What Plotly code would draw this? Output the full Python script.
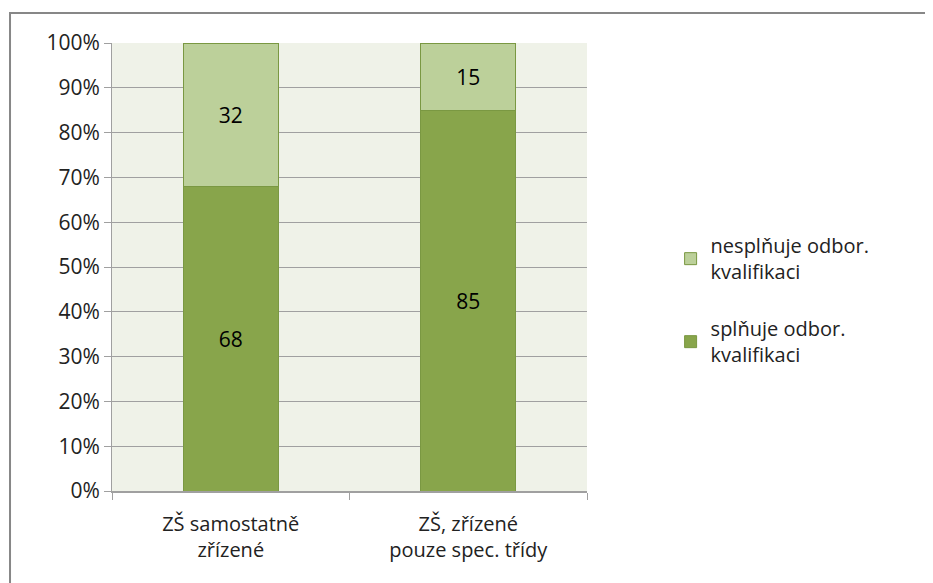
import plotly.graph_objects as go

categories = ["ZŠ samostatně<br>zřízené", "ZŠ, zřízené<br>pouze spec. třídy"]
splnuje = [68, 85]
nesplnuje = [32, 15]

FONT = "Open Sans, Liberation Sans, sans-serif"
FS = 21

fig = go.Figure()

# bottom segment
fig.add_trace(go.Bar(
    x=categories, y=splnuje, name="splňuje odbor.<br>kvalifikaci",
    legendgroup="a", legendrank=2,
    marker=dict(color="#88A54B", line=dict(color="#7A9842", width=1)),
    text=splnuje, textposition="inside", insidetextanchor="middle",
    textfont=dict(color="black", size=FS, family=FONT),
    width=0.4,
))

# top segment
fig.add_trace(go.Bar(
    x=categories, y=nesplnuje, name="nesplňuje odbor.<br>kvalifikaci",
    legendgroup="b", legendrank=1,
    marker=dict(color="#BCD09A", line=dict(color="#7A9842", width=1)),
    text=nesplnuje, textposition="inside", insidetextanchor="middle",
    textfont=dict(color="black", size=FS, family=FONT),
    width=0.4,
))

fig.update_layout(
    barmode="stack",
    width=933, height=583,
    margin=dict(l=104, r=354, t=35, b=100),
    paper_bgcolor="white",
    plot_bgcolor="#EFF2E8",
    font=dict(family=FONT, size=FS, color="#222"),
    legend=dict(
        x=1.176, xanchor="left", y=0.426, yanchor="middle",
        traceorder="grouped", tracegroupgap=28,
        font=dict(size=FS - 1), itemwidth=30,
    ),
    xaxis=dict(
        tickson="boundaries", ticks="outside", ticklen=7, tickcolor="#A0A0A0",
        showline=True, linecolor="#A0A0A0", linewidth=1.5,
        showgrid=False, tickfont=dict(size=FS - 1), ticklabelstandoff=14,
    ),
    yaxis=dict(
        range=[0, 100], dtick=10, ticksuffix="%",
        ticks="outside", ticklen=7, tickcolor="#A0A0A0",
        showline=True, linecolor="#A0A0A0", linewidth=1,
        gridcolor="#A0A0A0", gridwidth=1, zeroline=False,
        tickfont=dict(size=FS),
    ),
    shapes=[dict(
        type="rect", xref="paper", yref="paper",
        x0=-0.2147, x1=1.75, y0=-0.25, y1=1.067,
        line=dict(color="#878787", width=2), fillcolor="rgba(0,0,0,0)",
        layer="below",
    )],
)

fig.write_html("out.html")
